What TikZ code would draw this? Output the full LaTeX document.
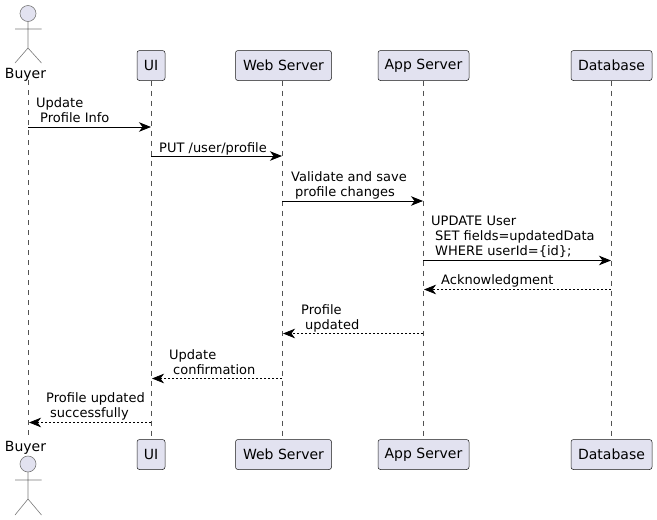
\documentclass[tikz,border=0pt]{standalone}
\usepackage{fontspec}
\setmainfont{DejaVu Sans}
\usetikzlibrary{arrows.meta}
\definecolor{partfill}{HTML}{E2E2F0}
\definecolor{partline}{HTML}{181818}
\definecolor{actline}{HTML}{7A7A7A}
\tikzset{
  px/.style={x=1pt,y=-1pt},
  partbox/.style={draw=partline,line width=0.5pt,fill=partfill,rounded corners=2.5pt,inner sep=0pt,minimum height=30pt,font=\fontsize{14}{16}\selectfont,text=black},
  nameonly/.style={inner sep=0pt,font=\fontsize{14}{16}\selectfont,text=black},
  lifeline/.style={draw=partline!75,line width=0.5pt,dash pattern=on 5pt off 5pt},
  actorline/.style={draw=actline,line width=0.6pt},
  actorhead/.style={draw=actline,line width=0.6pt,fill=partfill},
  callmsg/.style={draw=black,line width=0.8pt,-{Stealth[length=12pt,width=9.5pt,inset=3.5pt]}},
  retmsg/.style={draw=black,line width=0.6pt,dash pattern=on 2pt off 2pt,-{Stealth[length=12pt,width=9.5pt,inset=3.5pt]}},
  msgtext/.style={inner sep=0pt,anchor=south west,align=left,font=\fontsize{13}{15}\selectfont,text=black},
}
\newcommand{\ind}{\hspace*{4pt}}
\begin{document}
\begin{tikzpicture}[px]
\useasboundingbox (0,0) rectangle (657,520);
% lifeline anchors
\coordinate (buyerT) at (28,80);
\coordinate (buyerB) at (28,439);
\node[partbox,minimum width=28pt] (uiT) at (151,65.5) {\raisebox{-0.7pt}{UI}};
\node[partbox,minimum width=96pt] (webT) at (283.5,65.5) {\raisebox{-0.7pt}{Web Server}};
\node[partbox,minimum width=91pt] (appT) at (423.5,65.5) {\raisebox{-0.7pt}{App Server}};
\node[partbox,minimum width=81pt] (dbT) at (611.5,65.5) {\raisebox{-0.7pt}{Database}};
\node[partbox,minimum width=28pt] (uiB) at (151,454.5) {\raisebox{-0.7pt}{UI}};
\node[partbox,minimum width=96pt] (webB) at (283.5,454.5) {\raisebox{-0.7pt}{Web Server}};
\node[partbox,minimum width=91pt] (appB) at (423.5,454.5) {\raisebox{-0.7pt}{App Server}};
\node[partbox,minimum width=81pt] (dbB) at (611.5,454.5) {\raisebox{-0.7pt}{Database}};
\draw[lifeline] (buyerT) -- (buyerB);
\draw[lifeline] (151,80.5) -- (151,439.5);
\draw[lifeline] (282,80.5) -- (282,439.5);
\draw[lifeline] (423,80.5) -- (423,439.5);
\draw[lifeline] (611,80.5) -- (611,439.5);
% actors
\node[nameonly] (buyerTL) at (25.5,74.5) {Buyer};
\node[nameonly] (buyerBL) at (25.5,448) {Buyer};
\draw[actorhead] (28,13.5) circle (8);
\draw[actorline] (28,21.5) -- (28,48) (15,29) -- (41.5,29) (15,63) -- (28,48) -- (41.5,63);
\draw[actorhead] (28,464) circle (8);
\draw[actorline] (28,472) -- (28,499) (15,480) -- (41.5,480) (15,515) -- (28,499) -- (41.5,515);
% messages
\coordinate (m1a) at (28,127); \coordinate (m1b) at (151,127);
\coordinate (m2a) at (151,156); \coordinate (m2b) at (282,156);
\coordinate (m3a) at (282,201); \coordinate (m3b) at (423,201);
\coordinate (m4a) at (423,260.5); \coordinate (m4b) at (611,260.5);
\coordinate (m5a) at (611,289.5); \coordinate (m5b) at (424,289.5);
\coordinate (m6a) at (423,333.5); \coordinate (m6b) at (283,333.5);
\coordinate (m7a) at (282,378.5); \coordinate (m7b) at (152,378.5);
\coordinate (m8a) at (151,422.5); \coordinate (m8b) at (29,422.5);
\draw[callmsg] (m1a) -- (m1b);
\draw[callmsg] (m2a) -- (m2b);
\draw[callmsg] (m3a) -- (m3b);
\draw[callmsg] (m4a) -- (m4b);
\draw[retmsg] (m5a) -- (m5b);
\draw[retmsg] (m6a) -- (m6b);
\draw[retmsg] (m7a) -- (m7b);
\draw[retmsg] (m8a) -- (m8b);
\node[msgtext] (t1) at (36,122.5) {Update\\\ind Profile Info};
\node[msgtext] (t2) at (159,155) {PUT /user/profile};
\node[msgtext] (t3) at (291,199.5) {Validate and save\\\ind profile changes};
\node[msgtext] (t4) at (431,258) {UPDATE User\\\ind SET fields=updatedData\\\ind WHERE userId=\{id\};};
\node[msgtext] (t5) at (441,287.5) {Acknowledgment};
\node[msgtext] (t6) at (301,332.5) {Profile\\\ind updated};
\node[msgtext] (t7) at (169,375) {Update\\\ind confirmation};
\node[msgtext] (t8) at (46,420.5) {Profile updated\\\ind successfully};
\end{tikzpicture}
\end{document}
